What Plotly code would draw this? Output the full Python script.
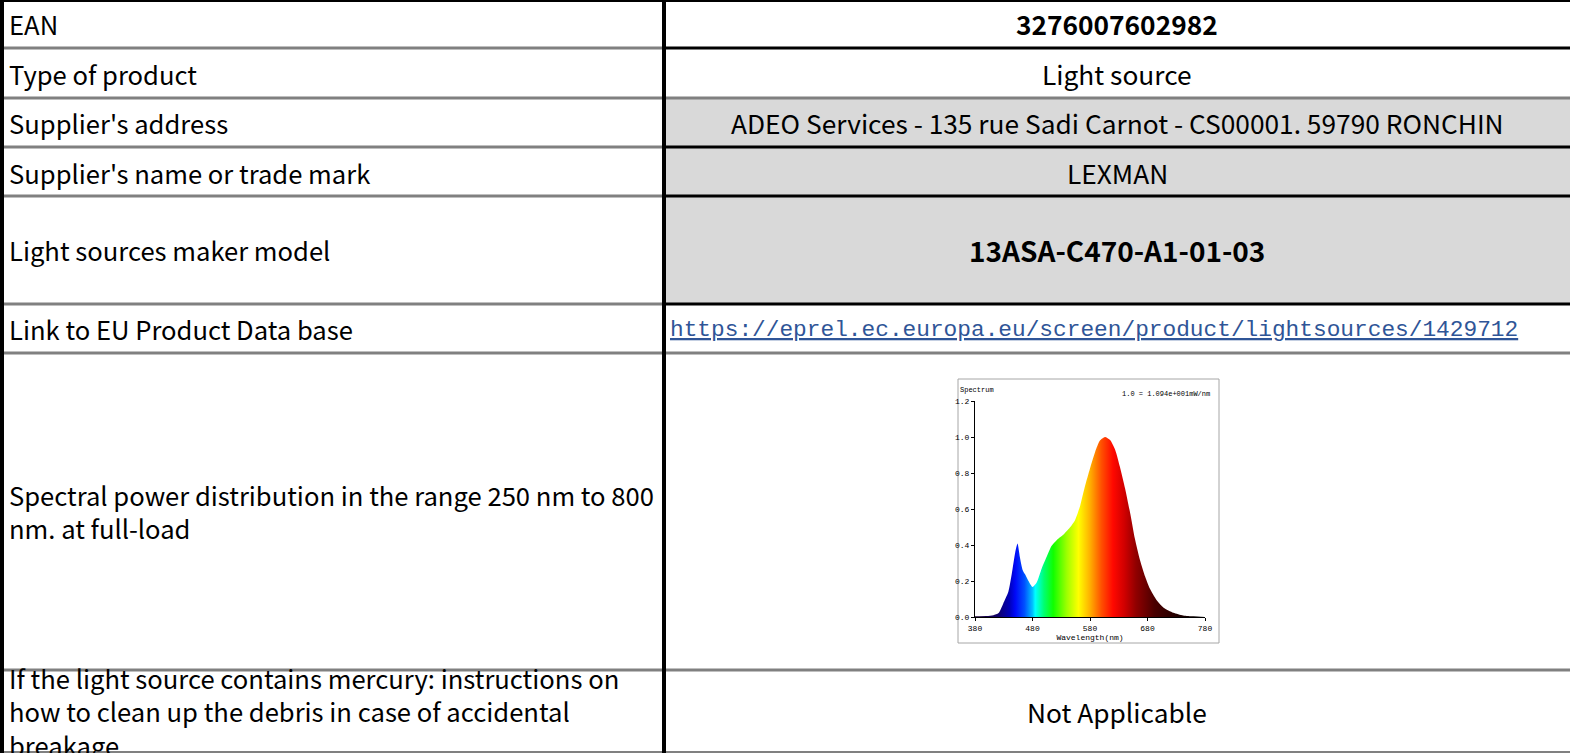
import plotly.graph_objects as go

W, H = 1570, 753

# ---------------- data ----------------
row_labels = [
    "EAN",
    "Type of product",
    "Supplier's address",
    "Supplier's name or trade mark",
    "Light sources maker model",
    "Link to EU Product Data base",
    "Spectral power distribution in the range 250 nm to 800<br>nm. at full-load",
    "If the light source contains mercury: instructions on<br>"
    "how to clean up the debris in case of accidental<br>breakage",
]
row_values = [
    "<b>3276007602982</b>",
    "Light source",
    "ADEO Services - 135 rue Sadi Carnot - CS00001. 59790 RONCHIN",
    "LEXMAN",
    "<b>13ASA-C470-A1-01-03</b>",
    "<u>https://eprel.ec.europa.eu/screen/product/lightsources/1429712</u>",
    "",
    "Not Applicable",
]
row_shaded = [False, False, True, True, True, False, False, False]

# spectrum (wavelength nm, relative power)
wavelength = [380, 400, 412, 421, 429, 438, 444, 450, 454, 458, 463, 467, 473, 480,
              487, 496, 505, 513, 522, 534, 545, 554, 563, 571, 580, 589, 597, 606,
              615, 624, 632, 641, 650, 658, 667, 676, 684, 696, 708, 725, 742, 760, 780]
power = [0.004, 0.005, 0.01, 0.022, 0.074, 0.14, 0.24, 0.36, 0.408, 0.334, 0.26, 0.237,
         0.20, 0.167, 0.19, 0.27, 0.338, 0.395, 0.427, 0.458, 0.497, 0.538, 0.62, 0.723,
         0.825, 0.918, 0.979, 1.0, 0.983, 0.927, 0.835, 0.714, 0.575, 0.436, 0.315,
         0.223, 0.158, 0.093, 0.052, 0.024, 0.009, 0.004, 0.0]
x_ticks = [380, 480, 580, 680, 780]
y_ticks = [0.0, 0.2, 0.4, 0.6, 0.8, 1.0, 1.2]

# ---------------- layout constants ----------------
row_edges = [0, 48, 98, 147, 196, 304, 353, 670, 753]
right_black = [48, 147, 196, 304]   # horizontal lines drawn black in the right column
split_x = 664
FONT = "Noto Sans CJK SC"
FS_LABEL = 25.6
FS_VALUE = 26.3


def px(x):
    return x / W


def py(y):
    return 1 - y / H


fig = go.Figure()

spectrum_scale = [
    [0.000, "#1a0030"], [0.100, "#10006a"], [0.150, "#0000b8"], [0.175, "#0008f8"],
    [0.215, "#0050ff"], [0.250, "#00c0ff"], [0.262, "#00ffff"], [0.300, "#00ff70"],
    [0.340, "#10ff00"], [0.400, "#a0ff00"], [0.450, "#ffff00"], [0.500, "#ffb000"],
    [0.550, "#ff5000"], [0.600, "#ff0800"], [0.650, "#d00000"], [0.700, "#900000"],
    [0.780, "#4a0000"], [0.880, "#200000"], [1.000, "#000000"],
]

fig.add_trace(go.Scatter(
    x=wavelength, y=power, mode="lines", line=dict(width=0, shape="spline", smoothing=0.6),
    fill="tozeroy",
    fillgradient=dict(type="horizontal", colorscale=spectrum_scale, start=380, stop=780),
    hoverinfo="skip", showlegend=False,
))

tickfont = dict(family="Liberation Mono", size=8, color="#000000")
fig.update_layout(
    template="none",
    width=W, height=H, autosize=False,
    margin=dict(l=0, r=0, t=0, b=0, pad=0, autoexpand=False),
    paper_bgcolor="white", plot_bgcolor="rgba(0,0,0,0)", showlegend=False,
    xaxis=dict(domain=[px(975), px(1205)], range=[380, 780], tickvals=x_ticks,
               ticktext=[str(v) for v in x_ticks], showgrid=False, zeroline=False,
               automargin=False,
               showline=True, linecolor="#000000", linewidth=1, ticks="outside",
               ticklen=3, tickcolor="#000000", tickfont=tickfont, fixedrange=True,
               title=dict(text="Wavelength(nm)", font=tickfont, standoff=1)),
    yaxis=dict(domain=[py(617), py(401)], range=[0, 1.2], tickvals=y_ticks,
               tickformat=".1f", showgrid=False, zeroline=False, showline=True,
               automargin=False,
               linecolor="#000000", linewidth=1, ticks="outside", ticklen=3,
               tickcolor="#000000", tickfont=tickfont, fixedrange=True),
)

shapes = []
annotations = []

# shaded value cells
for i, shaded in enumerate(row_shaded):
    if shaded:
        shapes.append(dict(type="rect", xref="paper", yref="paper", layer="below",
                           x0=px(split_x), x1=1, y0=py(row_edges[i]), y1=py(row_edges[i + 1]),
                           fillcolor="#d9d9d9", line=dict(width=0)))

# spectrum picture frame
shapes.append(dict(type="rect", xref="paper", yref="paper", layer="below",
                   x0=px(958), x1=px(1219), y0=py(379), y1=py(643),
                   fillcolor="white", line=dict(color="#a6a6a6", width=1)))

# horizontal grid lines
for y in row_edges[1:-1]:
    shapes.append(dict(type="line", xref="paper", yref="paper", x0=0, x1=px(split_x),
                       y0=py(y), y1=py(y), line=dict(color="#808080", width=3)))
    col = "#000000" if y in right_black else "#808080"
    shapes.append(dict(type="line", xref="paper", yref="paper", x0=px(split_x), x1=1,
                       y0=py(y), y1=py(y), line=dict(color=col, width=3)))
shapes.append(dict(type="line", xref="paper", yref="paper", x0=0, x1=1,
                   y0=py(752), y1=py(752), line=dict(color="#808080", width=2)))
# top border
shapes.append(dict(type="line", xref="paper", yref="paper", x0=0, x1=1,
                   y0=py(1), y1=py(1), line=dict(color="#000000", width=2)))
# left border and column divider
shapes.append(dict(type="line", xref="paper", yref="paper", x0=px(2), x1=px(2),
                   y0=0, y1=1, line=dict(color="#000000", width=4)))
shapes.append(dict(type="line", xref="paper", yref="paper", x0=px(split_x), x1=px(split_x),
                   y0=0, y1=1, line=dict(color="#000000", width=4)))

# text
label_centers = [24, 73, 123, 172, 250, 328, 511, 711]
value_centers = [24, 73, 123, 172, 250, 330, None, 711]
for i, lab in enumerate(row_labels):
    annotations.append(dict(text=lab, xref="paper", yref="paper", x=px(7),
                            y=py(label_centers[i]), xanchor="left", yanchor="middle",
                            align="left", showarrow=False,
                            font=dict(family=FONT, size=FS_LABEL, color="#000000")))
    v = row_values[i]
    if v:
        if v.startswith("<u>"):
            f = dict(family="Liberation Mono", size=22.8, color="#2f5597")
            xc = 1094
        elif v.startswith("<b>13"):
            f = dict(family=FONT, size=28, color="#000000")
            xc = 1117
        else:
            f = dict(family=FONT, size=FS_VALUE, color="#000000")
            xc = 1117
        annotations.append(dict(text=v, xref="paper", yref="paper", x=px(xc),
                                y=py(value_centers[i]), xanchor="center", yanchor="middle",
                                showarrow=False, font=f))

small = dict(family="Liberation Mono", size=7, color="#000000")
annotations.append(dict(text="Spectrum", xref="paper", yref="paper", x=px(958), y=py(390),
                        xanchor="left", yanchor="middle", showarrow=False, font=small))
annotations.append(dict(text="1.0 = 1.094e+001mW/nm", xref="paper", yref="paper", x=px(1212),
                        y=py(394), xanchor="right", yanchor="middle", showarrow=False,
                        font=small))

fig.update_layout(shapes=shapes, annotations=annotations)
fig.write_html(
    "out.html",
    config={"displayModeBar": False},
    post_script="document.body.style.margin='0';document.body.style.overflow='hidden';"
                "document.documentElement.style.overflow='hidden';",
)
